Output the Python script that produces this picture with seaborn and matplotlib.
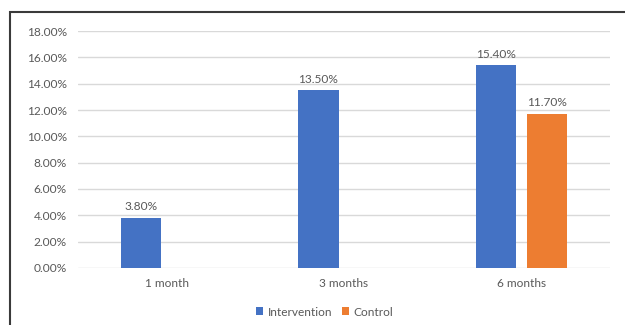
import matplotlib
matplotlib.use("Agg")
import matplotlib.pyplot as plt
import seaborn as sns
import pandas as pd
import numpy as np
from matplotlib.patches import Rectangle
from matplotlib.ticker import FuncFormatter, MultipleLocator

periods = ["1 month", "3 months", "6 months"]
groups = ["Intervention", "Control"]
intervention = [3.8, 13.5, 15.4]
control = [np.nan, np.nan, 11.7]
colors = ["#4472C4", "#ED7D31"]

rows = []
for p, v in zip(periods, intervention):
    rows.append({"period": p, "group": "Intervention", "value": v})
for p, v in zip(periods, control):
    rows.append({"period": p, "group": "Control", "value": v})
df = pd.DataFrame(rows).dropna()

sns.set_theme(style="white")
plt.rcParams["font.family"] = ["Lato", "DejaVu Sans"]
text_color = "#595959"
fs = 8.6

fig = plt.figure(figsize=(6.25, 3.25), dpi=100)
ax = fig.add_axes([0.1248, 0.1754, 0.976 - 0.1248, 0.9046 - 0.1754])

sns.barplot(data=df, x="period", y="value", hue="group", order=periods,
            hue_order=groups, palette=colors, width=0.576, gap=0.215,
            saturation=1, ax=ax, legend=True)

ax.set_ylim(0, 18)
ax.yaxis.set_major_locator(MultipleLocator(2))
ax.yaxis.set_major_formatter(FuncFormatter(lambda v, _: f"{v:.2f}%"))
ax.set_xlabel("")
ax.set_ylabel("")
ax.set_axisbelow(True)
ax.grid(axis="y", color="#D9D9D9", linewidth=1.0)
for s in ax.spines.values():
    s.set_visible(False)
ax.tick_params(axis="both", length=0, labelsize=fs, colors=text_color)
ax.tick_params(axis="y", pad=8)
ax.tick_params(axis="x", pad=7)

for cont in ax.containers:
    ax.bar_label(cont, labels=[f"{b.get_height():.2f}%" for b in cont],
                 padding=4, fontsize=fs, color=text_color)

for b in ax.patches:
    b.set_edgecolor("none")

leg = ax.legend(loc="center", bbox_to_anchor=(324.5 / 625, 1 - 312 / 325),
                bbox_transform=fig.transFigure, ncol=2,
                frameon=False, fontsize=fs, handlelength=0.6, handleheight=0.6,
                handletextpad=0.4, columnspacing=0.8, labelcolor=text_color,
                borderaxespad=0, borderpad=0)

fig.patches.append(Rectangle((10 / 625, -0.1), 1.2, 1 - 12 / 325 + 0.1,
                             transform=fig.transFigure, fill=False,
                             edgecolor="#3a3a3a", linewidth=1.5))

fig.savefig("out.png", dpi=100)
